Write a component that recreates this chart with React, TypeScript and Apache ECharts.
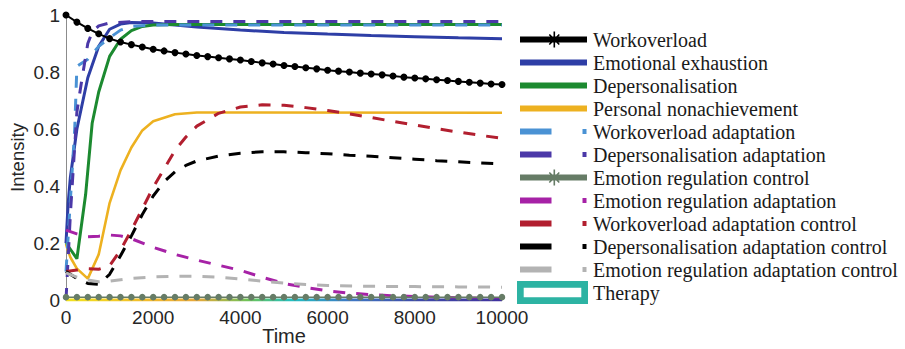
import React, { useEffect, useRef } from "react";
import * as echarts from "echarts";

// ---------- data ----------
const NAMES = [
  "Workoverload",
  "Emotional exhaustion",
  "Depersonalisation",
  "Personal nonachievement",
  "Workoverload adaptation",
  "Depersonalisation adaptation",
  "Emotion regulation control",
  "Emotion regulation adaptation",
  "Workoverload adaptation control",
  "Depersonalisation adaptation control",
  "Emotion regulation adaptation control",
  "Therapy",
];

const X_TICKS = [0, 2000, 4000, 6000, 8000, 10000];
const Y_TICKS = [0, 0.2, 0.4, 0.6, 0.8, 1];

// time points used for marker series (every 250 time units)
const TIME_MARKED = [
  0, 250, 500, 750, 1000, 1250, 1500, 1750, 2000, 2250, 2500, 2750, 3000, 3250,
  3500, 3750, 4000, 4250, 4500, 4750, 5000, 5250, 5500, 5750, 6000, 6250, 6500,
  6750, 7000, 7250, 7500, 7750, 8000, 8250, 8500, 8750, 9000, 9250, 9500, 9750,
  10000,
];

const WORKOVERLOAD = [
  1.0, 0.975, 0.953, 0.934, 0.917, 0.905, 0.896, 0.888, 0.88, 0.874, 0.868,
  0.863, 0.858, 0.854, 0.85, 0.846, 0.842, 0.837, 0.832, 0.828, 0.823, 0.819,
  0.815, 0.811, 0.806, 0.803, 0.8, 0.796, 0.793, 0.79, 0.786, 0.782, 0.779,
  0.776, 0.773, 0.77, 0.767, 0.764, 0.761, 0.758, 0.756,
];

const EMOTION_REG_CONTROL = [
  0.01, 0.01, 0.01, 0.01, 0.01, 0.01, 0.01, 0.01, 0.01, 0.01, 0.01, 0.01, 0.01,
  0.01, 0.01, 0.01, 0.01, 0.01, 0.01, 0.01, 0.01, 0.01, 0.01, 0.01, 0.01, 0.01,
  0.01, 0.01, 0.01, 0.01, 0.01, 0.01, 0.01, 0.01, 0.01, 0.01, 0.01, 0.01, 0.01,
  0.01, 0.01,
];

const EMOTIONAL_EXHAUSTION = [
  [0, 0.2], [50, 0.34], [100, 0.43], [250, 0.6], [500, 0.78], [750, 0.89],
  [1000, 0.95], [1250, 0.968], [1500, 0.974], [2000, 0.972], [2500, 0.965],
  [3000, 0.958], [4000, 0.947], [5000, 0.939], [6000, 0.933], [7000, 0.928],
  [8000, 0.924], [9000, 0.92], [10000, 0.917],
];

const DEPERSONALISATION = [
  [0, 0.2], [250, 0.145], [450, 0.37], [600, 0.62], [750, 0.73], [1000, 0.855],
  [1250, 0.915], [1500, 0.945], [1750, 0.96], [2000, 0.965], [2500, 0.967],
  [10000, 0.967],
];

const PERSONAL_NONACH = [
  [0, 0.195], [100, 0.15], [250, 0.11], [500, 0.075], [750, 0.16], [1000, 0.34],
  [1250, 0.455], [1500, 0.535], [1750, 0.595], [2000, 0.627], [2500, 0.652],
  [3000, 0.658], [10000, 0.657],
];

const WORKOVERLOAD_ADAPT = [
  [0, 0.1], [200, 0.6], [250, 0.82], [500, 0.845], [750, 0.89], [1000, 0.92],
  [1250, 0.947], [1500, 0.96], [2000, 0.965], [10000, 0.965],
];

const DEPERS_ADAPT = [
  [0, 0], [100, 0.3], [250, 0.66], [350, 0.76], [500, 0.9], [600, 0.94],
  [750, 0.962], [1000, 0.972], [1500, 0.977], [10000, 0.977],
];

const EMOTION_REG_ADAPT = [
  [0, 0.245], [250, 0.232], [500, 0.222], [750, 0.224], [1000, 0.228],
  [1250, 0.225], [1500, 0.215], [2000, 0.185], [2500, 0.16], [3000, 0.14],
  [3500, 0.122], [4000, 0.104], [4500, 0.08], [5000, 0.058], [5500, 0.044],
  [6000, 0.032], [6500, 0.024], [7000, 0.019], [7500, 0.015], [8000, 0.012],
  [9000, 0.008], [10000, 0.005],
];

const WORKOVERLOAD_ADAPT_CTRL = [
  [0, 0.1], [250, 0.105], [500, 0.11], [750, 0.108], [1000, 0.12],
  [1250, 0.175], [1500, 0.245], [1750, 0.32], [2000, 0.395], [2250, 0.46],
  [2500, 0.525], [2750, 0.572], [3000, 0.61], [3500, 0.655], [4000, 0.677],
  [4500, 0.685], [5000, 0.683], [5500, 0.675], [6000, 0.665], [6500, 0.653],
  [7000, 0.64], [7500, 0.627], [8000, 0.614], [8500, 0.601], [9000, 0.589],
  [9500, 0.578], [10000, 0.567],
];

const DEPERS_ADAPT_CTRL = [
  [0, 0.1], [250, 0.075], [500, 0.058], [750, 0.055], [1000, 0.09],
  [1250, 0.155], [1500, 0.225], [1750, 0.3], [2000, 0.365], [2250, 0.415],
  [2500, 0.45], [2750, 0.472], [3000, 0.488], [3500, 0.505], [4000, 0.515],
  [4500, 0.52], [5000, 0.52], [5500, 0.517], [6000, 0.513], [6500, 0.508],
  [7000, 0.504], [7500, 0.499], [8000, 0.494], [8500, 0.489], [9000, 0.485],
  [9500, 0.481], [10000, 0.477],
];

const EMOTION_REG_ADAPT_CTRL = [
  [0, 0.095], [250, 0.08], [500, 0.07], [750, 0.064], [1000, 0.066],
  [1500, 0.076], [2000, 0.081], [2500, 0.083], [3000, 0.083], [3500, 0.08],
  [4000, 0.074], [4500, 0.066], [5000, 0.059], [5500, 0.054], [6000, 0.051],
  [7000, 0.048], [8000, 0.047], [9000, 0.046], [10000, 0.045],
];

const THERAPY = [
  [0, 0],
  [10000, 0],
];

const COLORS = {
  workoverload: "#000000",
  exhaustion: "#2E3EA6",
  depers: "#1C8A30",
  nonach: "#EDB120",
  woAdapt: "#4A92D4",
  depAdapt: "#4B38A8",
  erControl: "#667C66",
  erAdapt: "#A622A6",
  woAdaptCtrl: "#B21F2F",
  depAdaptCtrl: "#000000",
  erAdaptCtrl: "#B3B3B3",
  therapy: "#2DB3A3",
};

// ---------- legend icons (71 x 23 box) ----------
const ANCHORS = "M0 0h0.01v0.01h-0.01Z M70.99 22.99h0.01v0.01h-0.01Z ";
const ICON_SOLID = "path://" + ANCHORS + "M3 8.5H70V14.5H3Z";
const ICON_STAR =
  "path://" +
  ANCHORS +
  "M3 8.5H70V14.5H3Z " +
  "M36.5 3.5H38.1V19.5H36.5Z " +
  "M31.73 7.07L32.87 5.93L42.87 15.93L41.73 17.07Z " +
  "M32.87 17.07L31.73 15.93L41.73 5.93L42.87 7.07Z";
const ICON_DASH = "path://" + ANCHORS + "M3 8.5H34.5V14.5H3Z M65.5 9H69.5V14H65.5Z";
const ICON_RING = "path://M0 0H71V23H0Z M6.7 6.7V16.3H64.3V6.7Z";

const DASH = [12, 11];

export default function App() {
  const ref = useRef<HTMLDivElement>(null);

  useEffect(() => {
    document.body.style.margin = "0";
    if (!ref.current) return;
    const chart = echarts.init(ref.current, undefined, { renderer: "svg" });

    const gridLeft = 66;
    const gridRight = 403;
    const plotRightPx = 905 - gridRight;

    const therapyGradient = new echarts.graphic.LinearGradient(
      gridLeft,
      0,
      plotRightPx,
      0,
      [
        { offset: 0, color: "#F2E31E" },
        { offset: 0.2, color: "#F2B82E" },
        { offset: 0.3, color: "#E8A83A" },
        { offset: 0.42, color: "#6CC45A" },
        { offset: 0.52, color: "#22BFC2" },
        { offset: 0.65, color: "#3F78C4" },
        { offset: 0.8, color: "#3E4CA8" },
        { offset: 1, color: "#40309E" },
      ],
      true
    );

    const lineSeries = (
      name: string,
      data: number[][],
      color: string,
      width: number,
      dashed: boolean,
      z = 2
    ) => ({
      name,
      type: "line",
      data,
      symbol: "none",
      z,
      color,
      itemStyle: { color },
      lineStyle: {
        color,
        width,
        type: dashed ? DASH : "solid",
        cap: "butt",
      },
    });

    const legendIcon = (name: string) => {
      if (name === "Workoverload" || name === "Emotion regulation control") return ICON_STAR;
      if (name === "Therapy") return ICON_RING;
      if (
        name === "Emotional exhaustion" ||
        name === "Depersonalisation" ||
        name === "Personal nonachievement"
      )
        return ICON_SOLID;
      return ICON_DASH;
    };

    const option: any = {
      animation: false,
      grid: {
        left: gridLeft,
        right: gridRight,
        top: 15,
        bottom: 49,
        containLabel: false,
        outerBoundsMode: "none",
      },
      legend: {
        orient: "vertical",
        left: 517,
        top: 28,
        padding: 0,
        itemGap: 0,
        itemWidth: 71,
        itemHeight: 23,
        selectedMode: false,
        itemStyle: { borderWidth: 0 },
        textStyle: {
          fontFamily: "Liberation Serif",
          fontSize: 20,
          color: "#1a1a1a",
        },
        data: NAMES.map((n) => ({ name: n, icon: legendIcon(n) })),
      },
      xAxis: {
        type: "value",
        min: X_TICKS[0],
        max: X_TICKS[X_TICKS.length - 1],
        interval: X_TICKS[1] - X_TICKS[0],
        name: "Time",
        nameLocation: "middle",
        nameGap: 26,
        nameMoveOverlap: false,
        nameTextStyle: {
          fontFamily: "Liberation Sans",
          fontSize: 20,
          lineHeight: 20,
          color: "#262626",
        },
        axisLine: { show: true, lineStyle: { color: "#8c8c8c", width: 1 } },
        axisTick: { show: false },
        splitLine: { show: false },
        axisLabel: {
          fontFamily: "Liberation Sans",
          fontSize: 19,
          color: "#262626",
          margin: 8,
          formatter: (v: number) => String(v),
        },
      },
      yAxis: {
        type: "value",
        min: Y_TICKS[0],
        max: Y_TICKS[Y_TICKS.length - 1],
        interval: 0.2,
        name: "Intensity",
        nameLocation: "middle",
        nameRotate: 90,
        nameGap: 39,
        nameMoveOverlap: false,
        nameTextStyle: { fontFamily: "Liberation Sans", fontSize: 18.5, color: "#262626" },
        axisLine: { show: true, lineStyle: { color: "#8c8c8c", width: 1 } },
        axisTick: { show: false },
        splitLine: { show: false },
        axisLabel: {
          fontFamily: "Liberation Sans",
          fontSize: 19,
          color: "#262626",
          margin: 6,
          formatter: (v: number) => String(Math.round(v * 10) / 10),
        },
      },
      series: [
        {
          name: NAMES[0],
          type: "line",
          data: TIME_MARKED.map((t, i) => [t, WORKOVERLOAD[i]]),
          symbol: "circle",
          symbolSize: 7,
          showSymbol: true,
          color: COLORS.workoverload,
          itemStyle: { color: COLORS.workoverload },
          lineStyle: { color: COLORS.workoverload, width: 2 },
        },
        lineSeries(NAMES[1], EMOTIONAL_EXHAUSTION, COLORS.exhaustion, 3, false),
        lineSeries(NAMES[2], DEPERSONALISATION, COLORS.depers, 3, false),
        lineSeries(NAMES[3], PERSONAL_NONACH, COLORS.nonach, 2.6, false),
        lineSeries(NAMES[4], WORKOVERLOAD_ADAPT, COLORS.woAdapt, 3, true),
        lineSeries(NAMES[5], DEPERS_ADAPT, COLORS.depAdapt, 3, true),
        {
          name: NAMES[6],
          type: "line",
          z: 4,
          data: TIME_MARKED.map((t, i) => [t, EMOTION_REG_CONTROL[i]]),
          symbol: "circle",
          symbolSize: 6.5,
          showSymbol: true,
          color: COLORS.erControl,
          itemStyle: { color: COLORS.erControl },
          lineStyle: { color: COLORS.erControl, width: 1.5 },
        },
        lineSeries(NAMES[7], EMOTION_REG_ADAPT, COLORS.erAdapt, 3, true),
        lineSeries(NAMES[8], WORKOVERLOAD_ADAPT_CTRL, COLORS.woAdaptCtrl, 3, true),
        lineSeries(NAMES[9], DEPERS_ADAPT_CTRL, COLORS.depAdaptCtrl, 3, true),
        lineSeries(NAMES[10], EMOTION_REG_ADAPT_CTRL, COLORS.erAdaptCtrl, 3, true),
        {
          name: NAMES[11],
          type: "line",
          z: 3,
          data: THERAPY,
          symbol: "none",
          color: COLORS.therapy,
          itemStyle: { color: COLORS.therapy },
          lineStyle: { color: therapyGradient, width: 3 },
        },
      ],
    };

    chart.setOption(option);
    return () => chart.dispose();
  }, []);

  return (
    <div
      ref={ref}
      style={{ position: "absolute", left: 0, top: 0, width: 905, height: 349 }}
    />
  );
}
